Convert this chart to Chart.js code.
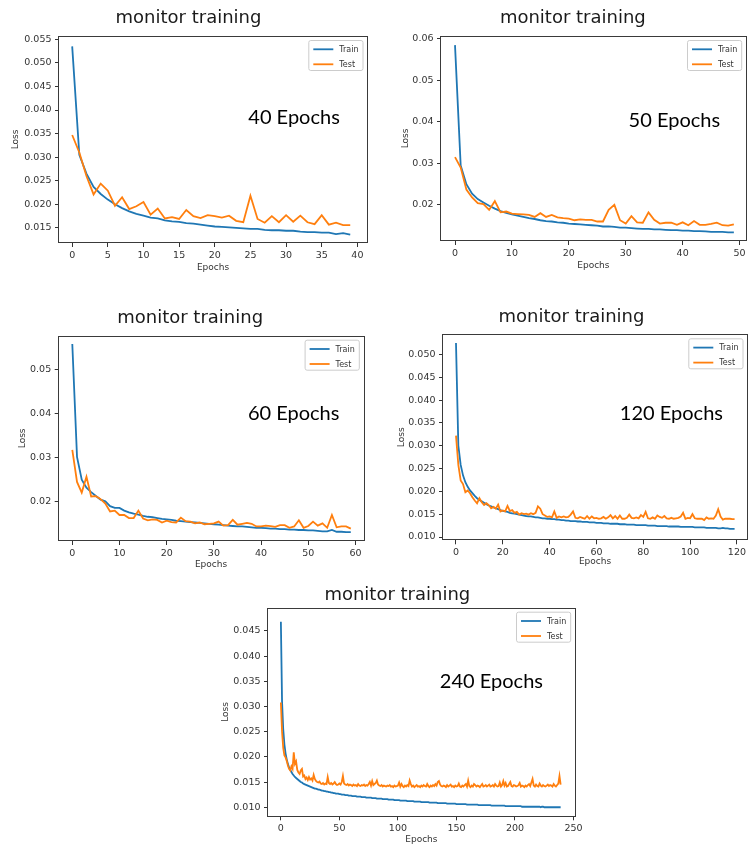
<!DOCTYPE html>
<html>
<head>
  <title>monitor training</title>
  <script src="https://cdn.jsdelivr.net/npm/chart.js"></script>
  <style>
    body {
      margin: 0;
      background: #fff;
      width: 749px;
      height: 850px;
      overflow: hidden;
      position: relative;
    }
    canvas {
      position: absolute;
    }
  </style>
</head>
<body>
  <canvas id="c40"></canvas>
  <canvas id="c50"></canvas>
  <canvas id="c60"></canvas>
  <canvas id="c120"></canvas>
  <canvas id="c240"></canvas>

  <script>
    // ---- data ----
    var seriesNames = ['Train', 'Test'];

    var note40 = '40 Epochs';
    var xTicks40 = [0, 5, 10, 15, 20, 25, 30, 35, 40];
    var yTicks40 = ['0.015', '0.020', '0.025', '0.030', '0.035', '0.040', '0.045', '0.050', '0.055'];
    var train40 = [0.0535, 0.0305, 0.0265, 0.0237, 0.0222, 0.0210, 0.0200, 0.0192, 0.0185, 0.0180,
      0.0176, 0.0172, 0.0170, 0.0166, 0.0164, 0.0163, 0.0160, 0.0159, 0.0157, 0.0155,
      0.0153, 0.0152, 0.0151, 0.0150, 0.0149, 0.0148, 0.0148, 0.0146, 0.0145, 0.0145,
      0.0144, 0.0144, 0.0142, 0.0141, 0.0141, 0.0140, 0.0140, 0.0137, 0.0139, 0.0136];
    var test40 = [0.0347, 0.0310, 0.0260, 0.0221, 0.0244, 0.0229, 0.0197, 0.0215, 0.0190, 0.0196,
      0.0205, 0.0178, 0.0191, 0.0170, 0.0173, 0.0169, 0.0188, 0.0175, 0.0171, 0.0177,
      0.0175, 0.0172, 0.0176, 0.0165, 0.0162, 0.0218, 0.0169, 0.0161, 0.0175, 0.0162,
      0.0177, 0.0163, 0.0176, 0.0162, 0.0158, 0.0177, 0.0157, 0.0161, 0.0156, 0.0156];

    var note50 = '50 Epochs';
    var xTicks50 = [0, 10, 20, 30, 40, 50];
    var yTicks50 = ['0.02', '0.03', '0.04', '0.05', '0.06'];
    var train50 = [0.0585, 0.0295, 0.0250, 0.0227, 0.0214, 0.0206, 0.0198, 0.0191, 0.0185, 0.0181,
      0.0177, 0.0174, 0.0171, 0.0168, 0.0166, 0.0163, 0.0161, 0.0160, 0.0158, 0.0157,
      0.0155, 0.0154, 0.0153, 0.0152, 0.0151, 0.0150, 0.0148, 0.0148, 0.0147, 0.0145,
      0.0145, 0.0144, 0.0143, 0.0142, 0.0142, 0.0141, 0.0141, 0.0140, 0.0139, 0.0139,
      0.0138, 0.0138, 0.0137, 0.0137, 0.0136, 0.0135, 0.0135, 0.0135, 0.0134, 0.0134];
    var test50 = [0.0315, 0.0290, 0.0237, 0.0218, 0.0204, 0.0202, 0.0188, 0.0209, 0.0182, 0.0184,
      0.0179, 0.0178, 0.0177, 0.0176, 0.0171, 0.0180, 0.0171, 0.0176, 0.0170, 0.0168,
      0.0167, 0.0163, 0.0165, 0.0164, 0.0164, 0.0160, 0.0160, 0.0188, 0.0200, 0.0163,
      0.0155, 0.0173, 0.0158, 0.0157, 0.0182, 0.0164, 0.0155, 0.0157, 0.0157, 0.0152,
      0.0158, 0.0151, 0.0161, 0.0152, 0.0152, 0.0154, 0.0157, 0.0151, 0.0150, 0.0153];

    var note60 = '60 Epochs';
    var xTicks60 = [0, 10, 20, 30, 40, 50, 60];
    var yTicks60 = ['0.02', '0.03', '0.04', '0.05'];
    var train60 = [0.0558, 0.0302, 0.0250, 0.0232, 0.0222, 0.0213, 0.0205, 0.0201, 0.0190, 0.0186,
      0.0186, 0.0180, 0.0176, 0.0173, 0.0171, 0.0168, 0.0166, 0.0165, 0.0163, 0.0161,
      0.0160, 0.0159, 0.0157, 0.0156, 0.0155, 0.0154, 0.0153, 0.0152, 0.0151, 0.0150,
      0.0149, 0.0148, 0.0147, 0.0146, 0.0145, 0.0144, 0.0144, 0.0143, 0.0142, 0.0141,
      0.0141, 0.0140, 0.0139, 0.0139, 0.0138, 0.0138, 0.0137, 0.0137, 0.0136, 0.0136,
      0.0135, 0.0135, 0.0134, 0.0133, 0.0133, 0.0136, 0.0132, 0.0132, 0.0131, 0.0131];
    var test60 = [0.0318, 0.0245, 0.0221, 0.0257, 0.0212, 0.0213, 0.0206, 0.0196, 0.0178, 0.0180,
      0.0170, 0.0170, 0.0163, 0.0163, 0.0180, 0.0162, 0.0158, 0.0160, 0.0159, 0.0153,
      0.0157, 0.0154, 0.0153, 0.0164, 0.0156, 0.0155, 0.0151, 0.0153, 0.0149, 0.0150,
      0.0151, 0.0155, 0.0146, 0.0147, 0.0159, 0.0148, 0.0150, 0.0152, 0.0150, 0.0144,
      0.0144, 0.0146, 0.0145, 0.0143, 0.0147, 0.0147, 0.0141, 0.0144, 0.0158, 0.0141,
      0.0145, 0.0155, 0.0146, 0.0151, 0.0141, 0.0170, 0.0142, 0.0144, 0.0144, 0.0139];

    var note120 = '120 Epochs';
    var xTicks120 = [0, 20, 40, 60, 80, 100, 120];
    var yTicks120 = ['0.010', '0.015', '0.020', '0.025', '0.030', '0.035', '0.040', '0.045', '0.050'];
    var train120 = [0.0525, 0.0300, 0.0258, 0.0235, 0.0220, 0.0210, 0.0202, 0.0196, 0.0190, 0.0185,
      0.0181, 0.0178, 0.0175, 0.0172, 0.0169, 0.0167, 0.0165, 0.0163, 0.0161, 0.0159,
      0.0157, 0.0156, 0.0155, 0.0153, 0.0152, 0.0151, 0.0150, 0.0149, 0.0148, 0.0147,
      0.0146, 0.0145, 0.0145, 0.0144, 0.0143, 0.0143, 0.0142, 0.0141, 0.0141, 0.0140,
      0.0140, 0.0139, 0.0139, 0.0138, 0.0138, 0.0137, 0.0137, 0.0136, 0.0136, 0.0135,
      0.0135, 0.0135, 0.0134, 0.0134, 0.0133, 0.0133, 0.0133, 0.0132, 0.0132, 0.0132,
      0.0131, 0.0131, 0.0131, 0.0130, 0.0130, 0.0130, 0.0129, 0.0129, 0.0129, 0.0129,
      0.0128, 0.0128, 0.0128, 0.0127, 0.0127, 0.0127, 0.0127, 0.0126, 0.0126, 0.0126,
      0.0126, 0.0126, 0.0125, 0.0125, 0.0125, 0.0125, 0.0124, 0.0124, 0.0124, 0.0124,
      0.0124, 0.0123, 0.0123, 0.0123, 0.0123, 0.0123, 0.0122, 0.0122, 0.0122, 0.0122,
      0.0122, 0.0122, 0.0121, 0.0121, 0.0121, 0.0121, 0.0121, 0.0120, 0.0120, 0.0120,
      0.0120, 0.0120, 0.0119, 0.0119, 0.0120, 0.0119, 0.0119, 0.0118, 0.0118, 0.0118];
    var test120 = [0.0322, 0.0258, 0.0224, 0.0216, 0.0198, 0.0202, 0.0196, 0.0187, 0.0180, 0.0174,
      0.0185, 0.0176, 0.0170, 0.0174, 0.0170, 0.0163, 0.0166, 0.0162, 0.0171, 0.0156,
      0.0158, 0.0156, 0.0168, 0.0157, 0.0159, 0.0153, 0.0155, 0.0149, 0.0152, 0.0150,
      0.0151, 0.0149, 0.0152, 0.0150, 0.0153, 0.0167, 0.0162, 0.0150, 0.0147, 0.0144,
      0.0145, 0.0143, 0.0156, 0.0142, 0.0145, 0.0143, 0.0145, 0.0143, 0.0144, 0.0149,
      0.0156, 0.0142, 0.0141, 0.0144, 0.0142, 0.0140, 0.0146, 0.0140, 0.0145, 0.0141,
      0.0142, 0.0140, 0.0141, 0.0144, 0.0140, 0.0143, 0.0148, 0.0141, 0.0146, 0.0140,
      0.0147, 0.0140, 0.0140, 0.0142, 0.0149, 0.0142, 0.0141, 0.0143, 0.0141, 0.0148,
      0.0144, 0.0155, 0.0141, 0.0140, 0.0143, 0.0140, 0.0147, 0.0144, 0.0142, 0.0146,
      0.0141, 0.0140, 0.0142, 0.0140, 0.0141, 0.0142, 0.0145, 0.0153, 0.0140, 0.0142,
      0.0141, 0.0150, 0.0141, 0.0140, 0.0140, 0.0140, 0.0137, 0.0143, 0.0140, 0.0141,
      0.0140, 0.0147, 0.0161, 0.0145, 0.0138, 0.0140, 0.0140, 0.0140, 0.0139, 0.0139];

    var note240 = '240 Epochs';
    var xTicks240 = [0, 50, 100, 150, 200, 250];
    var yTicks240 = ['0.010', '0.015', '0.020', '0.025', '0.030', '0.035', '0.040', '0.045'];
    var train240 = [0.0468, 0.0310, 0.0255, 0.0225, 0.0207, 0.0195, 0.0186, 0.0179, 0.0174, 0.0170,
      0.0166, 0.0163, 0.0160, 0.0158, 0.0156, 0.0154, 0.0152, 0.0150, 0.0149, 0.0147,
      0.0146, 0.0145, 0.0144, 0.0143, 0.0142, 0.0141, 0.0140, 0.0139, 0.0138, 0.0137,
      0.0137, 0.0136, 0.0135, 0.0135, 0.0134, 0.0133, 0.0133, 0.0132, 0.0132, 0.0131,
      0.0131, 0.0130, 0.0130, 0.0129, 0.0129, 0.0128, 0.0128, 0.0127, 0.0127, 0.0127,
      0.0126, 0.0126, 0.0125, 0.0125, 0.0125, 0.0124, 0.0124, 0.0124, 0.0123, 0.0123,
      0.0123, 0.0122, 0.0122, 0.0122, 0.0122, 0.0121, 0.0121, 0.0121, 0.0121, 0.0120,
      0.0120, 0.0120, 0.0120, 0.0119, 0.0119, 0.0119, 0.0119, 0.0119, 0.0118, 0.0118,
      0.0118, 0.0118, 0.0117, 0.0117, 0.0117, 0.0117, 0.0117, 0.0116, 0.0116, 0.0116,
      0.0116, 0.0116, 0.0115, 0.0115, 0.0115, 0.0115, 0.0115, 0.0114, 0.0114, 0.0114,
      0.0114, 0.0114, 0.0113, 0.0113, 0.0113, 0.0113, 0.0113, 0.0113, 0.0112, 0.0112,
      0.0112, 0.0112, 0.0112, 0.0112, 0.0111, 0.0111, 0.0111, 0.0111, 0.0111, 0.0111,
      0.0110, 0.0110, 0.0110, 0.0110, 0.0110, 0.0110, 0.0110, 0.0109, 0.0109, 0.0109,
      0.0109, 0.0109, 0.0109, 0.0109, 0.0108, 0.0108, 0.0108, 0.0108, 0.0108, 0.0108,
      0.0108, 0.0108, 0.0107, 0.0107, 0.0107, 0.0107, 0.0107, 0.0107, 0.0107, 0.0107,
      0.0106, 0.0106, 0.0106, 0.0106, 0.0106, 0.0106, 0.0106, 0.0106, 0.0106, 0.0105,
      0.0105, 0.0105, 0.0105, 0.0105, 0.0105, 0.0105, 0.0105, 0.0105, 0.0105, 0.0104,
      0.0104, 0.0104, 0.0104, 0.0104, 0.0104, 0.0104, 0.0104, 0.0104, 0.0104, 0.0104,
      0.0103, 0.0103, 0.0103, 0.0103, 0.0103, 0.0103, 0.0103, 0.0103, 0.0103, 0.0103,
      0.0103, 0.0103, 0.0102, 0.0102, 0.0102, 0.0102, 0.0102, 0.0102, 0.0102, 0.0102,
      0.0102, 0.0102, 0.0102, 0.0102, 0.0102, 0.0102, 0.0101, 0.0101, 0.0101, 0.0101,
      0.0101, 0.0101, 0.0101, 0.0101, 0.0101, 0.0101, 0.0101, 0.0101, 0.0101, 0.0101,
      0.0101, 0.0101, 0.0100, 0.0101, 0.0101, 0.0100, 0.0100, 0.0100, 0.0100, 0.0100,
      0.0100, 0.0100, 0.0100, 0.0100, 0.0100, 0.0100, 0.0100, 0.0100, 0.0100, 0.0100];
    var test240 = [0.0308, 0.0250, 0.0218, 0.0203, 0.0199, 0.0192, 0.0183, 0.0176, 0.0173, 0.0181,
      0.0176, 0.0209, 0.0186, 0.0191, 0.0174, 0.0169, 0.0166, 0.0173, 0.0176, 0.0161,
      0.0163, 0.0156, 0.0159, 0.0154, 0.0160, 0.0155, 0.0157, 0.0153, 0.0164, 0.0156,
      0.0152, 0.0150, 0.0149, 0.0151, 0.0147, 0.0146, 0.0148, 0.0145, 0.0147, 0.0146,
      0.0160, 0.0148, 0.0146, 0.0148, 0.0145, 0.0147, 0.0150, 0.0146, 0.0144, 0.0145,
      0.0147, 0.0145, 0.0150, 0.0162, 0.0147, 0.0145, 0.0144, 0.0146, 0.0143, 0.0145,
      0.0144, 0.0142, 0.0145, 0.0143, 0.0144, 0.0142, 0.0146, 0.0143, 0.0142, 0.0144,
      0.0143, 0.0145, 0.0142, 0.0144, 0.0143, 0.0146, 0.0150, 0.0143, 0.0152, 0.0144,
      0.0146, 0.0148, 0.0153, 0.0145, 0.0143, 0.0142, 0.0144, 0.0141, 0.0143, 0.0142,
      0.0141, 0.0143, 0.0142, 0.0144, 0.0141, 0.0142, 0.0140, 0.0143, 0.0141, 0.0142,
      0.0143, 0.0149, 0.0141, 0.0146, 0.0142, 0.0140, 0.0143, 0.0141, 0.0144, 0.0142,
      0.0153, 0.0146, 0.0141, 0.0143, 0.0140, 0.0142, 0.0144, 0.0141, 0.0142, 0.0140,
      0.0143, 0.0141, 0.0144, 0.0142, 0.0141, 0.0146, 0.0142, 0.0140, 0.0143, 0.0141,
      0.0144, 0.0142, 0.0146, 0.0143, 0.0150, 0.0152, 0.0145, 0.0142, 0.0141, 0.0143,
      0.0142, 0.0140, 0.0144, 0.0141, 0.0143, 0.0145, 0.0141, 0.0142, 0.0140, 0.0143,
      0.0141, 0.0142, 0.0147, 0.0141, 0.0140, 0.0143, 0.0141, 0.0144, 0.0146, 0.0141,
      0.0153, 0.0142, 0.0140, 0.0143, 0.0141, 0.0146, 0.0144, 0.0141, 0.0143, 0.0142,
      0.0140, 0.0143, 0.0146, 0.0141, 0.0142, 0.0144, 0.0141, 0.0143, 0.0145, 0.0141,
      0.0142, 0.0144, 0.0141, 0.0146, 0.0143, 0.0141, 0.0142, 0.0149, 0.0141, 0.0144,
      0.0152, 0.0143, 0.0148, 0.0141, 0.0142, 0.0146, 0.0150, 0.0142, 0.0141, 0.0144,
      0.0143, 0.0141, 0.0142, 0.0144, 0.0148, 0.0141, 0.0143, 0.0142, 0.0140, 0.0143,
      0.0141, 0.0144, 0.0146, 0.0142, 0.0149, 0.0156, 0.0143, 0.0141, 0.0145, 0.0142,
      0.0141, 0.0147, 0.0143, 0.0141, 0.0144, 0.0142, 0.0141, 0.0143, 0.0145, 0.0142,
      0.0144, 0.0143, 0.0141, 0.0146, 0.0143, 0.0141, 0.0144, 0.0147, 0.0162, 0.0145];

    // ---- panels: where each plot box sits on the page (px) ----
    var panels = [
      { id: 'c40', train: train40, test: test40, xTicks: xTicks40, yTicks: yTicks40, note: note40,
        xRange: [-1.85, 41.35], yRange: [0.0118, 0.0557], noteAt: [24.7, 0.0385],
        L: 59, R: 367, T: 36, B: 243, titleX: 207, titleY: 18.3, lossX: 15.7, epochsY: 267.5 },
      { id: 'c50', train: train50, test: test50, xTicks: xTicks50, yTicks: yTicks50, note: note50,
        xRange: [-2.46, 51.08], yRange: [0.0113, 0.0607], noteAt: [30.5, 0.0404],
        L: 441, R: 745.7, T: 36, B: 241, titleX: 589, titleY: 18.3, lossX: 405.7, epochsY: 265.7 },
      { id: 'c60', train: train60, test: test60, xTicks: xTicks60, yTicks: yTicks60, note: note60,
        xRange: [-2.88, 61.65], yRange: [0.0111, 0.0577], noteAt: [37.2, 0.0401],
        L: 58.7, R: 363.3, T: 335.7, B: 541, titleX: 206, titleY: 317.5, lossX: 22.3, epochsY: 564.3 },
      { id: 'c120', train: train120, test: test120, xTicks: xTicks120, yTicks: yTicks120, note: note120,
        xRange: [-5.55, 124.3], yRange: [0.00928, 0.0544], noteAt: [70.0, 0.0371],
        L: 443, R: 747, T: 334.3, B: 540.3, titleX: 589, titleY: 316.7, lossX: 401.7, epochsY: 561.7 },
      { id: 'c240', train: train240, test: test240, xTicks: xTicks240, yTicks: yTicks240, note: note240,
        xRange: [-11, 251], yRange: [0.0082, 0.0496], noteAt: [135.8, 0.0350],
        L: 268, R: 574.7, T: 607.7, B: 816.3, titleX: 414.7, titleY: 595, lossX: 225, epochsY: 840 }
    ];

    Chart.defaults.font.family = '"DejaVu Sans", sans-serif';
    Chart.defaults.color = '#333';

    // spines, the "N Epochs" note and a matplotlib style legend inside the axes
    var mplLook = {
      id: 'mplLook',
      afterDraw: function (chart, args, o) {
        var ctx = chart.ctx, a = chart.chartArea;
        ctx.save();
        ctx.strokeStyle = '#3a3a3a';
        ctx.lineWidth = 1;
        ctx.strokeRect(Math.round(a.left) - 0.5, Math.round(a.top) + 0.5,
          Math.round(a.right - a.left) + 1, Math.round(a.bottom - a.top) - 1);

        ctx.fillStyle = '#000';
        ctx.font = '20px Lato';
        ctx.textAlign = 'left';
        ctx.textBaseline = 'middle';
        ctx.fillText(o.text, chart.scales.x.getPixelForValue(o.at[0]), chart.scales.y.getPixelForValue(o.at[1]));

        ctx.font = '8px "DejaVu Sans"';
        var w = 0;
        chart.data.datasets.forEach(function (d) { w = Math.max(w, ctx.measureText(d.label).width); });
        var bw = 4.5 + 20 + 6 + w + 4.5, bh = 30;
        var bx = a.right - 4 - bw, by = a.top + 4.5;
        ctx.beginPath();
        ctx.roundRect(bx, by, bw, bh, 2);
        ctx.fillStyle = 'rgba(255,255,255,0.8)';
        ctx.fill();
        ctx.strokeStyle = '#cccccc';
        ctx.stroke();
        chart.data.datasets.forEach(function (d, i) {
          var yy = by + 8.8 + i * 15;
          ctx.strokeStyle = d.borderColor;
          ctx.lineWidth = 1.8;
          ctx.beginPath();
          ctx.moveTo(bx + 4.5, yy);
          ctx.lineTo(bx + 24.5, yy);
          ctx.stroke();
          ctx.fillStyle = '#333';
          ctx.fillText(d.label, bx + 30.5, yy + 0.5);
        });
        ctx.restore();
      }
    };

    panels.forEach(function (p) {
      var cx = Math.round(p.lossX - 5.4);
      var cy = Math.round(p.titleY - 9);
      var yw = p.L - cx;
      var ch = Math.round(p.epochsY + 5.4 - cy);
      var xh = ch - (p.B - cy);
      var cw = Math.round(2 * (p.titleX - cx));
      var padRight = cw - (p.R - cx);

      var canvas = document.getElementById(p.id);
      canvas.width = cw;
      canvas.height = ch;
      canvas.style.left = cx + 'px';
      canvas.style.top = cy + 'px';

      var yLabels = new Map(p.yTicks.map(function (t) { return [parseFloat(t), t]; }));

      new Chart(canvas.getContext('2d'), {
        type: 'line',
        data: {
          datasets: [
            { label: seriesNames[0], data: p.train.map(function (v, i) { return { x: i, y: v }; }),
              borderColor: '#1f77b4', borderWidth: 1.8, pointRadius: 0, tension: 0, order: 1 },
            { label: seriesNames[1], data: p.test.map(function (v, i) { return { x: i, y: v }; }),
              borderColor: '#ff7f0e', borderWidth: 1.8, pointRadius: 0, tension: 0, order: 0 }
          ]
        },
        options: {
          responsive: false,
          animation: false,
          devicePixelRatio: 1,
          layout: { padding: { left: 0, top: 0, bottom: 0, right: padRight } },
          plugins: {
            legend: { display: false },
            tooltip: { enabled: false },
            title: {
              display: true,
              text: 'monitor training',
              color: '#1a1a1a',
              font: { size: 18, weight: 'normal', lineHeight: 1 },
              padding: { top: 0, bottom: p.T - cy - 18 }
            },
            mplLook: { text: p.note, at: p.noteAt }
          },
          scales: {
            x: {
              type: 'linear',
              min: p.xRange[0],
              max: p.xRange[1],
              afterBuildTicks: function (s) { s.ticks = p.xTicks.map(function (v) { return { value: v }; }); },
              afterFit: function (s) { s.height = xh; },
              ticks: { autoSkip: false, maxRotation: 0, padding: 3, font: { size: 9.5 }, color: '#333',
                callback: function (v) { return String(v); } },
              grid: { display: true, drawOnChartArea: false, drawTicks: true, tickLength: 4, color: '#333' },
              border: { display: false },
              title: { display: true, text: 'Epochs', font: { size: 9 }, color: '#333', padding: 0 }
            },
            y: {
              type: 'linear',
              min: p.yRange[0],
              max: p.yRange[1],
              afterBuildTicks: function (s) { s.ticks = p.yTicks.map(function (t) { return { value: parseFloat(t) }; }); },
              afterFit: function (s) { s.width = yw; },
              ticks: { autoSkip: false, padding: 3.5, font: { size: 9.5 }, color: '#333',
                callback: function (v) { return yLabels.get(v); } },
              grid: { display: true, drawOnChartArea: false, drawTicks: true, tickLength: 4, color: '#333' },
              border: { display: false },
              title: { display: true, text: 'Loss', font: { size: 9 }, color: '#333', padding: 0 }
            }
          }
        },
        plugins: [mplLook]
      });
    });
  </script>
</body>
</html>
